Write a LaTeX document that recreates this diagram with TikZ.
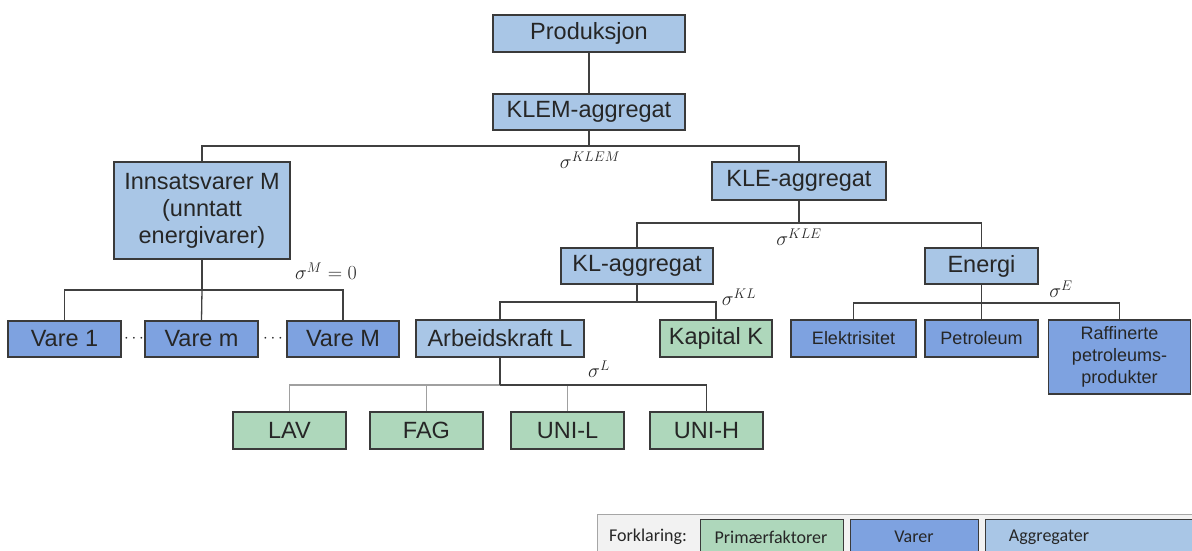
\RequirePackage{fix-cm}
\documentclass[tikz,border=0pt]{standalone}
\usepackage{fontspec}
\setmainfont{Liberation Sans}
\newfontfamily\legendfont{Carlito}
\definecolor{aggfill}{HTML}{A9C6E6}
\definecolor{varefill}{HTML}{7EA2E0}
\definecolor{primfill}{HTML}{AED7BB}
\definecolor{boxline}{HTML}{3A3A3A}
\definecolor{conline}{HTML}{404040}
\definecolor{lightcon}{HTML}{A0A0A0}
\definecolor{legbg}{HTML}{F2F2F2}
\begin{document}
\begin{tikzpicture}[x=1pt,y=-1pt,
  box/.style={draw=boxline,line width=1.4pt,inner sep=0pt,align=center,text=black!85},
  big/.style={font=\fontsize{23.5}{27}\selectfont},
  small/.style={font=\fontsize{18}{22}\selectfont},
  agg/.style={box,fill=aggfill},
  vare/.style={box,fill=varefill},
  prim/.style={box,fill=primfill},
  con/.style={draw=conline,line width=1.3pt},
  lcon/.style={draw=lightcon,line width=1.3pt},
  sig/.style={font=\fontsize{20}{22}\selectfont,text=black!85},
  dots/.style={font=\fontsize{17}{18}\selectfont,inner sep=0pt,text=black!85},
  legtext/.style={font=\legendfont\fontsize{18}{22}\selectfont,text=black!85}]
\useasboundingbox (0,0) rectangle (1192,551);
% top
\node[agg,big,minimum width=192pt,minimum height=37pt] (prod) at (589,33.5) {Produksjon};
\node[agg,big,minimum width=192pt,minimum height=36pt] (klem) at (589,112) {KLEM-aggregat};
\node[agg,big,minimum width=176pt,minimum height=97pt] (M) at (202,210.5) {Innsatsvarer M\\(unntatt\\energivarer)};
\node[agg,big,minimum width=174pt,minimum height=38pt] (kle) at (799,181) {KLE-aggregat};
\node[agg,big,minimum width=152pt,minimum height=36pt] (kl) at (637,266) {KL-aggregat};
\node[agg,big,minimum width=113pt,minimum height=36pt] (en) at (981.5,266) {Energi};
% M children
\node[vare,big,minimum width=113pt,minimum height=36pt] (v1) at (64.5,339) {Vare 1};
\node[vare,big,minimum width=113pt,minimum height=36pt] (vm) at (201.5,339) {Vare m};
\node[vare,big,minimum width=112pt,minimum height=36pt] (vM) at (343,339) {Vare M};
\node[dots] (d1) at (134,339) {$\cdots$};
\node[dots] (d2) at (273,339) {$\cdots$};
% KL children
\node[agg,big,minimum width=168pt,minimum height=37pt] (al) at (500,338.5) {Arbeidskraft L};
\node[prim,big,minimum width=112pt,minimum height=37pt] (kap) at (716,338.5) {Kapital K};
% Energy children
\node[vare,small,minimum width=125pt,minimum height=37pt] (el) at (853.5,338.5) {Elektrisitet};
\node[vare,small,minimum width=113pt,minimum height=37pt] (pet) at (981.5,338.5) {Petroleum};
\node[vare,small,minimum width=142pt,minimum height=74pt] (raf) at (1119.5,357) {Raffinerte\\petroleums-\\produkter};
% L children
\node[prim,big,minimum width=113pt,minimum height=37pt] (lav) at (289.5,430.5) {LAV};
\node[prim,big,minimum width=113pt,minimum height=37pt] (fag) at (426.5,430.5) {FAG};
\node[prim,big,minimum width=113pt,minimum height=37pt] (unil) at (567.5,430.5) {UNI-L};
\node[prim,big,minimum width=113pt,minimum height=37pt] (unih) at (706.5,430.5) {UNI-H};
% junctions
\coordinate (jklem) at (589,146);
\coordinate (jkle) at (799,223);
\coordinate (jM) at (202,290);
\coordinate (jkl) at (637,302);
\coordinate (jen) at (981.5,303);
\coordinate (jL) at (500,385);
% connectors
\draw[con] (prod) -- (klem);
\draw[con] (klem) -- (jklem);
\draw[con] (jklem) -| (M.north);
\draw[con] (jklem) -| (kle.north);
\draw[con] (kle) -- (jkle);
\draw[con] (jkle) -| (kl.north);
\draw[con] (jkle) -| (en.north);
\draw[con] (M) -- (jM);
\draw[con] (jM) -| (v1.north);
\draw[con] (jM) -- (vm.north);
\draw[con] (jM) -| (vM.north);
\draw[con] (kl) -- (jkl);
\draw[con] (jkl) -| (al.north);
\draw[con] (jkl) -| (kap.north);
\draw[con] (en) -- (jen);
\draw[con] (jen) -| (el.north);
\draw[con] (jen) -- (pet.north);
\draw[con] (jen) -| (raf.north);
\draw[lcon] (jL) -| (lav.north);
\draw[lcon] (jL) -| (fag.north);
\draw[lcon] (jL) -| (unil.north);
\draw[con] (al) -- (jL);
\draw[con] (jL) -| (unih.north);
% sigma labels
\node[sig] (s1) at (590,160) {$\sigma^{KLEM}$};
\node[sig] (s2) at (799,237) {$\sigma^{KLE}$};
\node[sig] (s3) at (326,271) {$\sigma^{M}=0$};
\node[sig] (s4) at (739,297) {$\sigma^{KL}$};
\node[sig] (s5) at (1061,289) {$\sigma^{E}$};
\node[sig] (s6) at (599,369) {$\sigma^{L}$};
% legend
\draw[draw=gray!70,fill=legbg,line width=1pt] (597,514) rectangle (1196,556);
\node[legtext] (forkl) at (648,537) {Forklaring:};
\draw[draw=boxline,fill=primfill,line width=1pt] (700,519) rectangle (843,556);
\draw[draw=boxline,fill=varefill,line width=1pt] (850,519) rectangle (978,556);
\draw[draw=boxline,fill=aggfill,line width=1pt] (985,519) rectangle (1196,556);
\node[legtext] (lp) at (771,537) {Primærfaktorer};
\node[legtext] (lv) at (914,537) {Varer};
\node[legtext] (la) at (1049,537) {Aggregater};
\end{tikzpicture}
\end{document}
